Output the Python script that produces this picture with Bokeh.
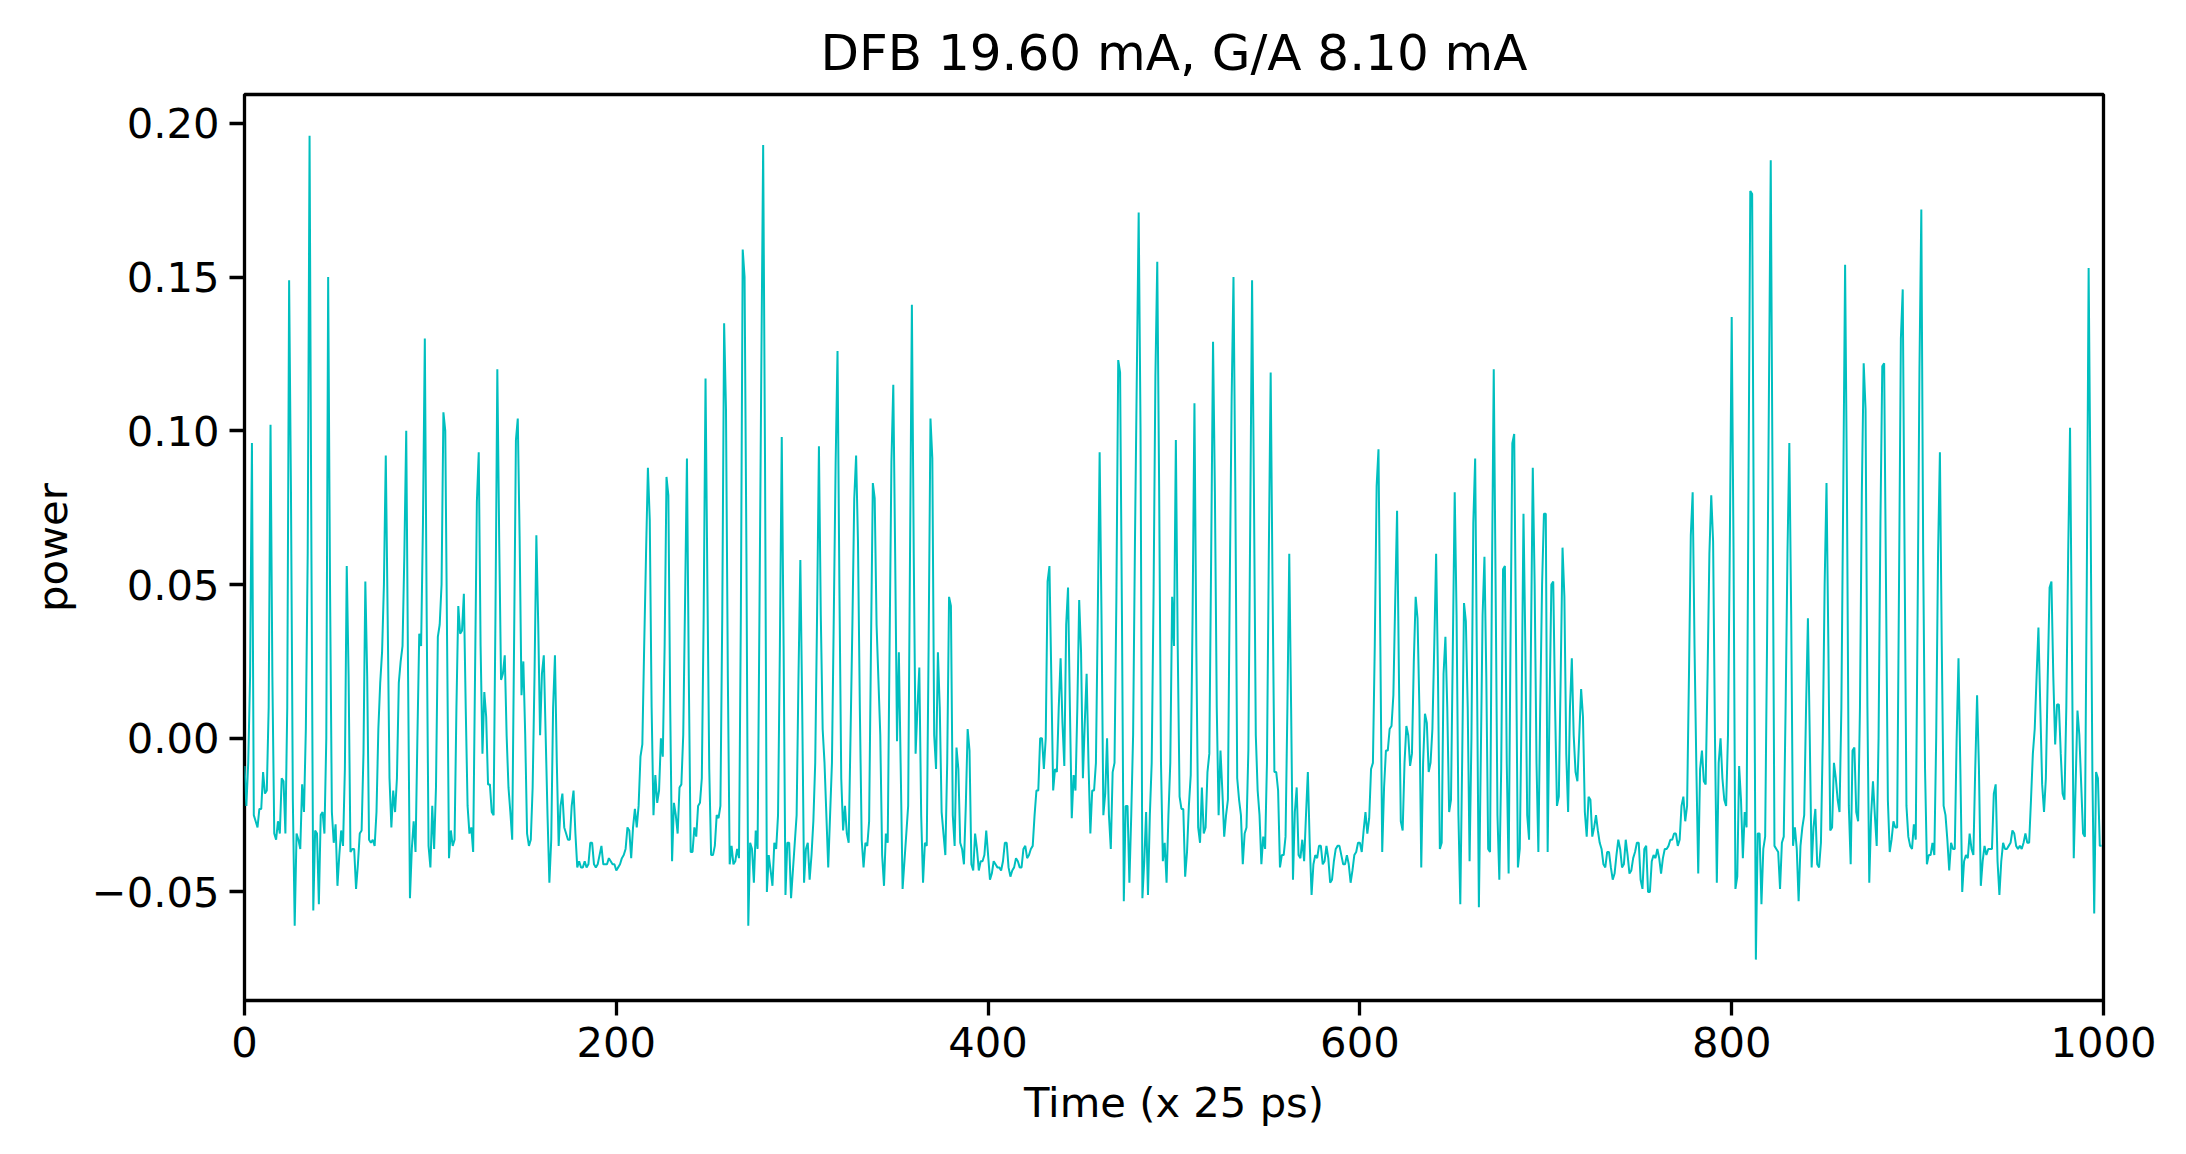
from bokeh.plotting import figure
from bokeh.models import Range1d, FixedTicker, CustomJSTickFormatter
from bokeh.embed import file_html
from bokeh.resources import INLINE

TITLE = "DFB 19.60 mA, G/A 8.10 mA"
X_LABEL = "Time (x 25 ps)"
Y_LABEL = "power"
X_TICKS = [0, 200, 400, 600, 800, 1000]
Y_TICKS = [-0.05, 0.0, 0.05, 0.10, 0.15, 0.20]

power_000 = [
    -0.009, -0.022, -0.008, 0.020, 0.096, -0.025, -0.027, -0.029, -0.023, -0.023,
    -0.011, -0.018, -0.017, 0.010, 0.102, 0.020, -0.031, -0.033, -0.027, -0.031,
    -0.013, -0.014, -0.031, 0.010, 0.149, 0.080, -0.020, -0.061, -0.031, -0.033,
    -0.036, -0.015, -0.024, 0.003, 0.060, 0.196, 0.060, -0.056, -0.030, -0.031,
    -0.054, -0.025, -0.024, -0.031, 0.000, 0.150, 0.050, -0.024, -0.034, -0.028,
    -0.048, -0.038, -0.030, -0.035, -0.010, 0.056, 0.020, -0.037, -0.036, -0.036,
    -0.049, -0.041, -0.031, -0.030, -0.005, 0.051, 0.020, -0.033, -0.034, -0.033,
    -0.035, -0.024, 0.003, 0.018, 0.028, 0.050, 0.092, 0.040, -0.013, -0.029,
    -0.017, -0.024, -0.013, 0.018, 0.025, 0.030, 0.060, 0.100, 0.020, -0.052,
    -0.036, -0.027, -0.037, 0.000, 0.034, 0.030, 0.070, 0.130, 0.040, -0.035,
]
power_100 = [
    -0.042, -0.022, -0.036, -0.016, 0.033, 0.037, 0.050, 0.106, 0.100, 0.030,
    -0.039, -0.030, -0.035, -0.033, 0.010, 0.043, 0.034, 0.035, 0.047, 0.010,
    -0.022, -0.031, -0.029, -0.037, 0.020, 0.077, 0.093, 0.030, -0.005, 0.015,
    0.007, -0.015, -0.015, -0.024, -0.025, 0.040, 0.120, 0.065, 0.019, 0.021,
    0.027, 0.001, -0.016, -0.024, -0.033, 0.030, 0.097, 0.104, 0.065, 0.014,
    0.025, 0.001, -0.031, -0.035, -0.033, -0.016, 0.020, 0.066, 0.037, 0.001,
    0.021, 0.027, 0.001, -0.025, -0.047, -0.033, 0.010, 0.027, -0.008, -0.035,
    -0.022, -0.018, -0.029, -0.031, -0.033, -0.033, -0.022, -0.017, -0.031, -0.042,
    -0.040, -0.042, -0.042, -0.040, -0.042, -0.041, -0.034, -0.034, -0.041, -0.042,
    -0.041, -0.038, -0.035, -0.041, -0.041, -0.041, -0.039, -0.040, -0.041, -0.041,
]
power_200 = [
    -0.043, -0.042, -0.041, -0.039, -0.038, -0.036, -0.029, -0.030, -0.039, -0.029,
    -0.023, -0.029, -0.022, -0.006, -0.002, 0.030, 0.060, 0.088, 0.071, 0.010,
    -0.025, -0.012, -0.021, -0.017, 0.000, -0.006, 0.030, 0.085, 0.079, 0.010,
    -0.040, -0.021, -0.025, -0.031, -0.016, -0.015, 0.001, 0.045, 0.091, 0.020,
    -0.037, -0.037, -0.029, -0.032, -0.022, -0.021, -0.013, 0.040, 0.117, 0.050,
    -0.010, -0.038, -0.038, -0.035, -0.025, -0.026, -0.022, 0.040, 0.135, 0.107,
    0.020, -0.041, -0.035, -0.041, -0.040, -0.036, -0.039, 0.040, 0.159, 0.150,
    0.060, -0.061, -0.034, -0.036, -0.047, -0.030, -0.036, 0.040, 0.120, 0.193,
    0.090, -0.050, -0.038, -0.043, -0.048, -0.034, -0.036, -0.025, 0.030, 0.098,
    0.030, -0.051, -0.034, -0.034, -0.052, -0.043, -0.034, -0.025, 0.020, 0.058,
]
power_300 = [
    0.010, -0.047, -0.036, -0.034, -0.046, -0.038, -0.027, -0.008, 0.040, 0.095,
    0.040, 0.003, -0.008, -0.025, -0.042, -0.025, -0.008, 0.040, 0.090, 0.126,
    0.050, -0.013, -0.030, -0.022, -0.031, -0.034, 0.001, 0.037, 0.078, 0.092,
    0.064, 0.010, -0.033, -0.042, -0.034, -0.035, -0.027, 0.030, 0.083, 0.078,
    0.037, 0.019, 0.001, -0.038, -0.048, -0.031, -0.034, 0.030, 0.090, 0.115,
    0.060, -0.001, 0.028, -0.010, -0.049, -0.040, -0.031, -0.022, 0.060, 0.141,
    0.060, -0.005, 0.010, 0.023, -0.025, -0.047, -0.034, -0.035, 0.030, 0.104,
    0.091, 0.001, -0.010, 0.028, 0.010, -0.024, -0.031, -0.038, -0.008, 0.046,
    0.043, -0.025, -0.035, -0.003, -0.010, -0.034, -0.036, -0.041, -0.022, 0.003,
    -0.004, -0.041, -0.043, -0.031, -0.036, -0.043, -0.040, -0.040, -0.038, -0.030,
]
power_400 = [
    -0.038, -0.046, -0.044, -0.040, -0.041, -0.042, -0.042, -0.043, -0.040, -0.034,
    -0.034, -0.042, -0.045, -0.043, -0.042, -0.039, -0.040, -0.042, -0.042, -0.036,
    -0.035, -0.039, -0.038, -0.036, -0.035, -0.025, -0.017, -0.017, 0.000, 0.000,
    -0.010, 0.000, 0.051, 0.056, 0.020, -0.017, -0.010, -0.011, 0.010, 0.026,
    0.005, -0.009, 0.037, 0.049, 0.010, -0.026, -0.012, -0.017, 0.010, 0.045,
    0.028, -0.013, 0.005, 0.021, -0.008, -0.031, -0.017, -0.017, -0.008, 0.040,
    0.093, 0.040, -0.025, -0.018, 0.000, -0.025, -0.036, -0.011, -0.008, 0.045,
    0.123, 0.119, 0.040, -0.053, -0.022, -0.022, -0.047, -0.025, 0.001, 0.064,
    0.118, 0.171, 0.100, -0.052, -0.040, -0.024, -0.051, -0.025, -0.008, 0.046,
    0.118, 0.155, 0.082, -0.008, -0.040, -0.034, -0.047, -0.025, -0.008, 0.046,
]
power_500 = [
    0.030, 0.097, 0.030, -0.019, -0.023, -0.023, -0.045, -0.037, -0.022, -0.012,
    0.040, 0.109, 0.030, -0.029, -0.034, -0.016, -0.031, -0.029, -0.011, -0.005,
    0.060, 0.129, 0.080, 0.010, -0.025, -0.004, -0.017, -0.032, -0.025, -0.020,
    0.050, 0.110, 0.150, 0.080, -0.013, -0.020, -0.025, -0.041, -0.031, -0.029,
    -0.004, 0.070, 0.149, 0.080, 0.001, -0.017, -0.025, -0.041, -0.032, -0.036,
    -0.008, 0.060, 0.119, 0.050, -0.011, -0.011, -0.017, -0.042, -0.038, -0.038,
    -0.032, 0.010, 0.060, 0.010, -0.046, -0.024, -0.016, -0.038, -0.039, -0.033,
    -0.040, -0.025, -0.011, -0.034, -0.051, -0.041, -0.038, -0.039, -0.035, -0.035,
    -0.041, -0.040, -0.035, -0.039, -0.047, -0.046, -0.040, -0.036, -0.035, -0.035,
    -0.038, -0.041, -0.041, -0.038, -0.041, -0.047, -0.043, -0.038, -0.037, -0.034,
]
power_600 = [
    -0.034, -0.037, -0.030, -0.024, -0.031, -0.026, -0.010, -0.008, 0.030, 0.082,
    0.094, 0.030, -0.037, -0.016, -0.004, -0.004, 0.003, 0.004, 0.014, 0.045,
    0.074, 0.020, -0.027, -0.030, -0.008, 0.004, 0.001, -0.009, -0.005, 0.025,
    0.046, 0.039, 0.010, -0.042, -0.008, 0.008, 0.005, -0.011, -0.008, 0.003,
    0.030, 0.060, 0.020, -0.036, -0.034, 0.021, 0.033, 0.010, -0.024, -0.020,
    0.030, 0.080, 0.040, -0.025, -0.054, -0.008, 0.044, 0.038, 0.010, -0.040,
    0.000, 0.070, 0.091, 0.020, -0.055, -0.008, 0.040, 0.059, 0.020, -0.036,
    -0.037, 0.050, 0.120, 0.050, -0.025, -0.046, -0.010, 0.055, 0.056, -0.008,
    -0.044, 0.030, 0.096, 0.099, 0.030, -0.042, -0.036, 0.010, 0.073, 0.030,
    -0.025, -0.033, 0.030, 0.088, 0.050, -0.008, -0.037, 0.010, 0.050, 0.073,
]
power_700 = [
    0.073, -0.037, 0.010, 0.050, 0.051, 0.010, -0.022, -0.019, 0.020, 0.062,
    0.046, -0.005, -0.024, 0.010, 0.026, 0.001, -0.011, -0.014, 0.001, 0.016,
    0.007, -0.024, -0.032, -0.019, -0.020, -0.032, -0.029, -0.025, -0.030, -0.034,
    -0.036, -0.041, -0.042, -0.037, -0.037, -0.042, -0.046, -0.044, -0.038, -0.033,
    -0.036, -0.042, -0.041, -0.033, -0.038, -0.044, -0.043, -0.039, -0.037, -0.034,
    -0.034, -0.046, -0.049, -0.036, -0.035, -0.050, -0.050, -0.040, -0.038, -0.039,
    -0.036, -0.039, -0.044, -0.039, -0.036, -0.036, -0.035, -0.033, -0.033, -0.031,
    -0.031, -0.035, -0.033, -0.022, -0.019, -0.027, -0.022, 0.020, 0.066, 0.080,
    0.030, -0.010, -0.044, -0.010, -0.004, -0.014, -0.015, 0.020, 0.060, 0.079,
    0.064, 0.000, -0.047, -0.008, 0.000, -0.013, -0.020, -0.022, 0.001, 0.064,
]
power_800 = [
    0.137, 0.060, -0.049, -0.045, -0.009, -0.020, -0.039, -0.024, -0.029, 0.080,
    0.178, 0.177, 0.050, -0.072, -0.031, -0.031, -0.054, -0.036, -0.032, 0.030,
    0.110, 0.188, 0.080, -0.035, -0.036, -0.037, -0.049, -0.034, -0.032, 0.010,
    0.060, 0.096, 0.040, -0.035, -0.029, -0.036, -0.053, -0.035, -0.029, -0.025,
    0.010, 0.039, 0.000, -0.042, -0.029, -0.023, -0.041, -0.042, -0.034, 0.000,
    0.050, 0.083, 0.030, -0.030, -0.029, -0.008, -0.013, -0.020, -0.024, 0.010,
    0.080, 0.154, 0.080, -0.022, -0.041, -0.004, -0.003, -0.024, -0.027, 0.010,
    0.080, 0.122, 0.107, 0.010, -0.047, -0.025, -0.014, -0.025, -0.035, 0.000,
    0.070, 0.121, 0.122, 0.050, -0.020, -0.037, -0.033, -0.027, -0.029, -0.029,
    0.050, 0.130, 0.146, 0.060, -0.022, -0.032, -0.035, -0.036, -0.028, -0.033,
]
power_900 = [
    0.040, 0.120, 0.172, 0.060, -0.010, -0.041, -0.038, -0.038, -0.034, -0.038,
    0.000, 0.060, 0.093, 0.030, -0.022, -0.025, -0.033, -0.043, -0.034, -0.036,
    -0.036, 0.000, 0.026, -0.010, -0.050, -0.040, -0.038, -0.039, -0.031, -0.036,
    -0.038, -0.010, 0.014, -0.010, -0.048, -0.040, -0.035, -0.038, -0.036, -0.036,
    -0.036, -0.018, -0.015, -0.040, -0.051, -0.040, -0.034, -0.036, -0.036, -0.035,
    -0.034, -0.030, -0.031, -0.035, -0.036, -0.035, -0.036, -0.034, -0.031, -0.034,
    -0.034, -0.020, -0.005, 0.003, 0.020, 0.036, 0.010, -0.015, -0.024, -0.013,
    0.020, 0.049, 0.051, 0.020, -0.002, 0.011, 0.011, -0.005, -0.018, -0.020,
    0.010, 0.060, 0.101, 0.030, -0.039, -0.015, 0.009, 0.001, -0.015, -0.031,
    -0.032, 0.050, 0.153, 0.080, -0.010, -0.057, -0.011, -0.013, -0.035, -0.035,
]

power = (power_000 + power_100 + power_200 + power_300 + power_400 +
         power_500 + power_600 + power_700 + power_800 + power_900)
time = list(range(len(power)))

FONT = "DejaVu Sans"
TICK_PX = "41.7px"

p = figure(
    frame_width=1859, frame_height=906,
    min_border_left=244, min_border_right=67,
    min_border_top=94, min_border_bottom=132,
    x_range=Range1d(0, 1000), y_range=Range1d(-0.0853, 0.2094),
    output_backend="svg", toolbar_location=None,
    title=TITLE,
)
p.line(time, power, line_color="#00bfbf", line_width=2.0)

p.title.align = "center"
p.title.text_font = FONT
p.title.text_font_size = "50px"
p.title.text_font_style = "normal"
p.title.text_color = "black"
p.title.standoff = 26

p.xgrid.visible = False
p.ygrid.visible = False
p.outline_line_color = "black"
p.outline_line_width = 3.3
p.outline_line_alpha = 1.0
p.background_fill_color = "white"
p.border_fill_color = "white"

p.xaxis.ticker = FixedTicker(ticks=X_TICKS)
p.yaxis.ticker = FixedTicker(ticks=Y_TICKS)
p.yaxis.formatter = CustomJSTickFormatter(
    code="var s = Math.abs(tick) < 1e-9 ? '0.00' : tick.toFixed(2); return s.replace('-', '\u2212');")
p.xaxis.formatter = CustomJSTickFormatter(code="return Math.round(tick).toString();")

for ax in (p.xaxis[0], p.yaxis[0]):
    ax.axis_line_color = None
    ax.major_tick_line_color = "black"
    ax.major_tick_line_width = 3.3
    ax.major_tick_out = 15
    ax.major_tick_in = 0
    ax.minor_tick_line_color = None
    ax.major_label_text_font = FONT
    ax.major_label_text_font_size = TICK_PX
    ax.major_label_text_color = "black"
    ax.axis_label_text_font = FONT
    ax.axis_label_text_font_size = TICK_PX
    ax.axis_label_text_font_style = "normal"
    ax.axis_label_text_color = "black"

p.yaxis.major_label_standoff = 10
p.yaxis.axis_label_standoff = 12
p.xaxis.major_label_standoff = 11
p.xaxis.axis_label_standoff = 18

p.xaxis.axis_label = X_LABEL
p.yaxis.axis_label = Y_LABEL

open("out.html", "w").write(file_html(p, INLINE))
